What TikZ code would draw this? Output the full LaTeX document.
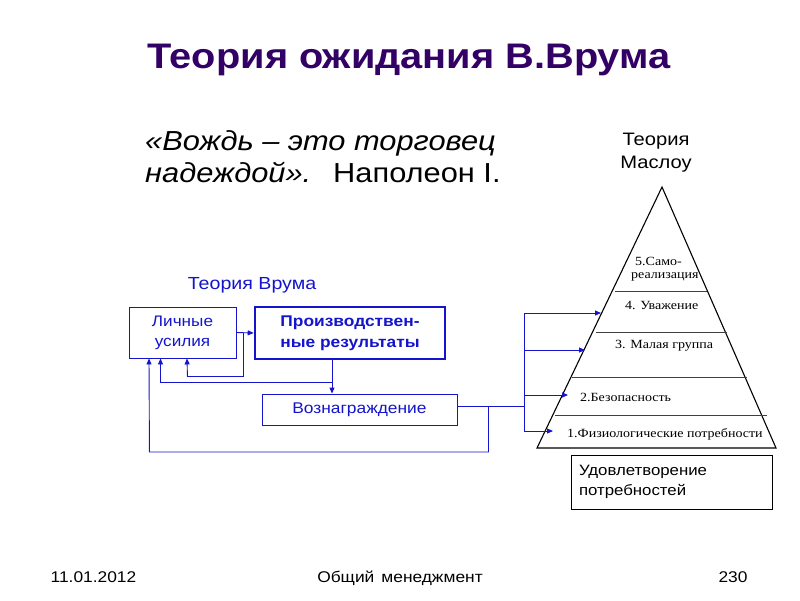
\documentclass[tikz,border=0pt]{standalone}
\usepackage{fontspec}
\setmainfont{Liberation Sans}[FakeStretch=1.12]
\newfontfamily\pyrfont{Liberation Serif}[FakeStretch=1.12]
\usepackage{tikz}
\usetikzlibrary{arrows.meta,positioning,calc}
\definecolor{TitlePurple}{RGB}{51,0,102}
\definecolor{VroomBlue}{RGB}{20,20,204}
\tikzset{
  vbox/.style={draw=VroomBlue,text=VroomBlue,align=center,inner sep=0pt,line width=0.9pt,
               font=\fontsize{15.3}{20}\selectfont},
  link/.style={draw=VroomBlue,line width=0.9pt},
  tip/.style={-{Triangle[length=6pt,width=5pt]}},
  level/.style={anchor=west,inner sep=0pt,font=\pyrfont\fontsize{12.5}{14}\selectfont},
  foot/.style={anchor=base,inner sep=0pt,font=\fontsize{15.5}{18}\selectfont},
}

\begin{document}
\begin{tikzpicture}[x=1pt,y=-1pt]
  \useasboundingbox (0,0) rectangle (800,600);
  % Title and quote
  \node[anchor=base,inner sep=0pt,font=\bfseries\fontsize{35.5}{38}\selectfont,text=TitlePurple] (title) at (409,68) {Теория ожидания В.Врума};
  \node[anchor=base west,inner sep=0pt,font=\itshape\fontsize{27.5}{30}\selectfont] (quote1) at (145,150) {«Вождь – это торговец};
  \node[anchor=base west,inner sep=0pt,font=\itshape\fontsize{27.5}{30}\selectfont] (quote2) at (145,182) {надеждой».};
  \node[anchor=base west,inner sep=0pt,font=\fontsize{27.5}{30}\selectfont] (author) at (333,182) {Наполеон I.};

  % Maslow pyramid
  \node[align=center,font=\fontsize{18}{23}\selectfont] (maslow) at (656,153) {Теория\\Маслоу};
  \coordinate (apex) at (662,187);
  \coordinate (bl) at (537,448);
  \coordinate (br) at (776,448);
  \draw[line width=1.1pt] (apex) -- (bl) -- (br) -- cycle;
  \foreach \ya/\xl/\xr in {291/615/707,332/596/727,377/572/747,415/555/767}
    \draw[black!75,line width=0.9pt] (\xl,\ya) -- (\xr,\ya);
  \node[level] (lvl5a) at (635,261) {5.Само-};
  \node[level] (lvl5b) at (631,277) {реализация};
  \node[level] (lvl4) at (625,305.5) {4. Уважение};
  \node[level] (lvl3) at (615,345.5) {3. Малая группа};
  \node[level] (lvl2) at (580,397) {2.Безопасность};
  \node[level] (lvl1) at (567,434) {1.Физиологические потребности};
  \node[draw,line width=0.9pt,minimum height=54pt,text width=185pt,inner xsep=8pt,align=left,
        font=\fontsize{15}{20}\selectfont] (needs) at (671.5,482) {Удовлетворение\\потребностей};

  % Vroom model
  \node[text=VroomBlue,font=\fontsize{17.5}{21}\selectfont] (vroom) at (252,285) {Теория Врума};
  \node[vbox,minimum width=107pt,minimum height=51pt] (effort) at (182.5,332.5) {Личные\\усилия};
  \node[vbox,line width=2.6pt,minimum width=190pt,minimum height=52pt,
        font=\bfseries\fontsize{15.5}{21}\selectfont] (results) at (350,333) {Производствен-\\ные результаты};
  \node[vbox,minimum width=195pt,minimum height=31pt,font=\fontsize{15.5}{20}\selectfont] (reward) at (359.5,409.5) {Вознаграждение};

  \draw[link,tip] (effort.east) -- (results.west);
  \coordinate (fb1) at ($(effort.east)+(7,0)$);
  \draw[link,tip] (fb1) |- ++(-56,44) -- ($(effort.south)+(4.5,0)$);
  \coordinate (r1) at ($(results.south)+(-18,0)$);
  \draw[link,tip] (r1) -- (r1 |- reward.north);
  \draw[link,tip] ($(r1)+(0,22)$) -| ($(effort.south)+(-22,0)$);
  \coordinate (rout) at ($(reward.east)+(0,-3.5)$);
  \coordinate (fb3) at ($(rout)+(31,0)$);
  \draw[link,tip] (fb3) |- ++(-339,46) -- ($(effort.south)+(-33.5,0)$);

  % links into the pyramid
  \coordinate (bustop) at (524,313);
  \coordinate (busbot) at (524,431);
  \draw[link] (rout) -- (rout -| bustop);
  \draw[link] (bustop) -- (busbot);
  \foreach \y/\x [count=\i] in {313/601,350/585,395/568,431/553}{
    \coordinate (in\i) at (\x,\y);
    \draw[link,tip] (in\i -| bustop) -- (in\i);
  }

  % Footer
  \node[foot] (date) at (93.5,582) {11.01.2012};
  \node[foot] (course) at (400,582) {Общий\hspace{0.45em}менеджмент};
  \node[foot] (page) at (733,582) {230};
\end{tikzpicture}
\end{document}
